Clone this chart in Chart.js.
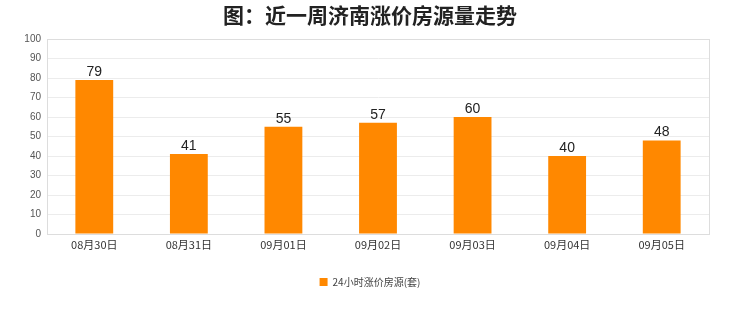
<!DOCTYPE html>
<html>
<head>
<meta charset="utf-8">
<script src="https://cdn.jsdelivr.net/npm/chart.js@4"></script>
<style>
  html, body { margin: 0; padding: 0; background: #fff; }
  #wrap { width: 740px; height: 312px; }
</style>
</head>
<body>
<div id="wrap"><canvas id="chart"></canvas></div>
<script>
const dates = ['08月30日', '08月31日', '09月01日', '09月02日', '09月03日', '09月04日', '09月05日'];
const listings = [79, 41, 55, 57, 60, 40, 48];
const seriesName = '24小时涨价房源(套)';
const chartTitle = '图：近一周济南涨价房源量走势';

// draws value above each bar
const valueLabels = {
  id: 'valueLabels',
  afterDatasetsDraw(chart) {
    const ctx = chart.ctx;
    const meta = chart.getDatasetMeta(0);
    ctx.save();
    ctx.font = '14px "Liberation Sans", Arial, sans-serif';
    ctx.fillStyle = '#222';
    ctx.textAlign = 'center';
    ctx.textBaseline = 'bottom';
    meta.data.forEach((bar, i) => {
      ctx.fillText(listings[i], bar.x, bar.y - 1);
    });
    ctx.restore();
  }
};

// title centred on the whole canvas, plus a thin frame round the plot
const decor = {
  id: 'decor',
  afterLayout(chart) {
    // legend box stops at the right padding; widen it so it centres on the canvas
    if (chart.legend) {
      chart.legend.right = chart.width;
      chart.legend.width = chart.width - chart.legend.left;
    }
  },
  afterDraw(chart) {
    const a = chart.chartArea;
    const c = chart.ctx;
    c.save();
    c.strokeStyle = '#ddd';
    c.lineWidth = 1;
    c.strokeRect(Math.round(a.left) + 0.5, Math.round(a.top) + 0.5, Math.round(a.right - a.left), Math.round(a.bottom - a.top));
    c.font = 'bold 21px "Noto Sans CJK SC", sans-serif';
    c.fillStyle = '#222';
    c.textAlign = 'center';
    c.textBaseline = 'middle';
    c.fillText(chartTitle, chart.width / 2, 15);
    c.restore();
  }
};

const ctx = document.getElementById('chart').getContext('2d');
new Chart(ctx, {
  type: 'bar',
  data: {
    labels: dates,
    datasets: [{
      label: seriesName,
      data: listings,
      backgroundColor: '#ff8800',
      borderWidth: 0,
      barPercentage: 0.4,
      categoryPercentage: 1
    }]
  },
  options: {
    responsive: true,
    maintainAspectRatio: false,
    animation: false,
    layout: { padding: { left: 0, right: 31, top: 39, bottom: 15 } },
    plugins: {
      title: { display: false },
      legend: {
        position: 'bottom',
        labels: {
          boxWidth: 8,
          boxHeight: 8,
          color: '#444',
          font: { size: 10, family: '"Noto Sans CJK SC", sans-serif' },
          padding: 10
        }
      },
      tooltip: { enabled: false }
    },
    scales: {
      x: {
        grid: { display: false, drawTicks: false },
        border: { color: '#ddd' },
        ticks: {
          color: '#333',
          font: { size: 11, family: '"Noto Sans CJK SC", sans-serif' },
          padding: 4
        },
        afterFit(scale) { scale.height = 33; }
      },
      y: {
        min: 0,
        max: 100,
        ticks: {
          stepSize: 10,
          color: '#555',
          font: { size: 10, family: '"Liberation Sans", Arial, sans-serif' },
          padding: 6
        },
        grid: { color: '#ececec', drawTicks: false },
        border: { color: '#ddd' },
        afterFit(scale) { scale.width = 47; }
      }
    }
  },
  plugins: [valueLabels, decor]
});
</script>
</body>
</html>
